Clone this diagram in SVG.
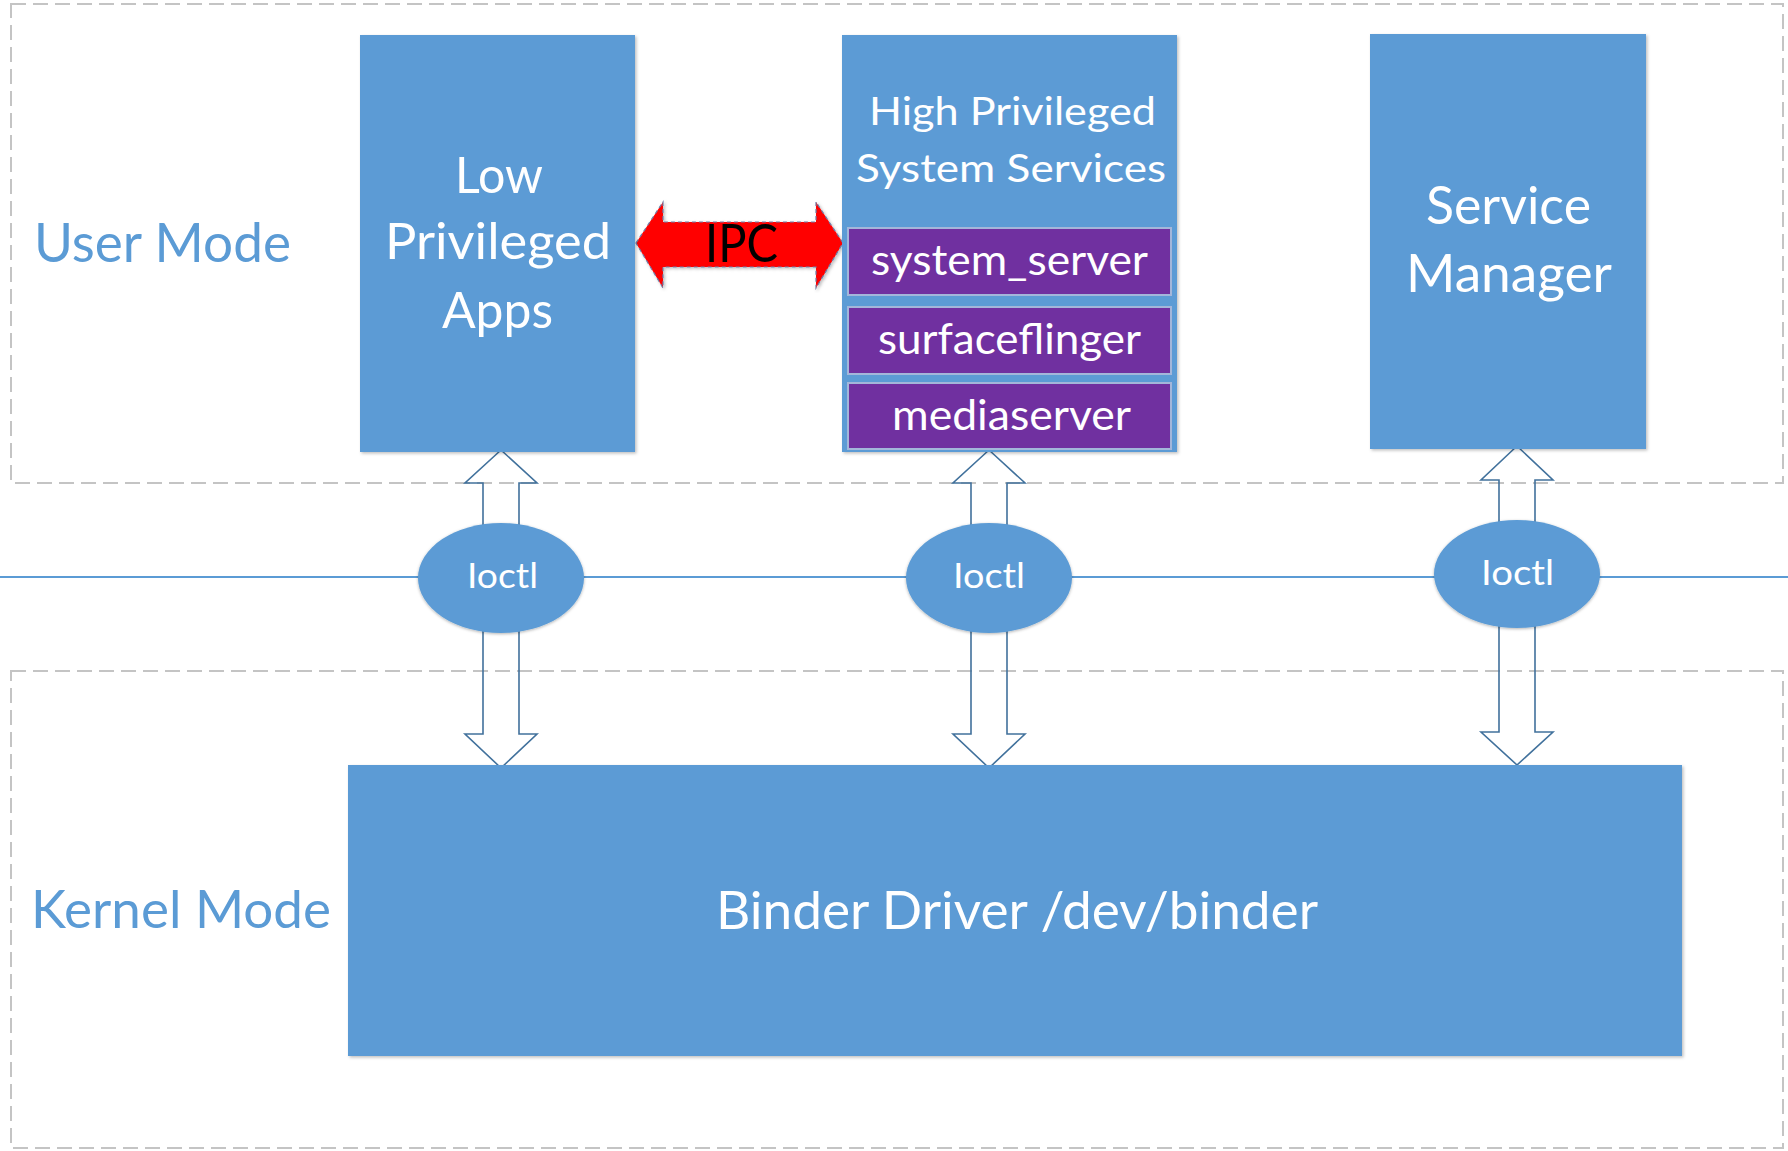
<svg xmlns="http://www.w3.org/2000/svg" width="1788" height="1151" viewBox="0 0 1788 1151">
<defs>
<style>
.zone{fill:none;stroke:#C4C4C4;stroke-width:2;stroke-dasharray:15 7}
.box{fill:#5B9BD5;filter:url(#sh)}
.proc{fill:#7030A0;stroke:#A3B6DA;stroke-width:2}
.wt{font-family:Lato,"Liberation Sans",sans-serif;fill:#FFFFFF}
.lbl{font-family:Lato,"Liberation Sans",sans-serif;fill:#5B9BD5}
.blk{font-family:Lato,"Liberation Sans",sans-serif;fill:#000000}
.darr{fill:none;stroke:#41719C;stroke-width:1.6;stroke-linejoin:miter}
.ell{fill:#5B9BD5;filter:url(#sh2)}
</style>
<filter id="sh" x="-5%" y="-5%" width="110%" height="110%">
<feDropShadow dx="1.5" dy="1.5" stdDeviation="1.5" flood-color="#000" flood-opacity="0.25"/>
</filter>
<filter id="sh2" x="-10%" y="-10%" width="120%" height="120%">
<feDropShadow dx="0" dy="1" stdDeviation="1.5" flood-color="#000" flood-opacity="0.3"/>
</filter>
</defs>
<rect width="1788" height="1151" fill="#FFFFFF"/>

<g id="zones">
<rect class="zone" x="11" y="4" width="1772" height="479"/>
<rect class="zone" x="11" y="671" width="1772" height="477"/>
<text class="lbl" x="34" y="262" font-size="54" textLength="257" lengthAdjust="spacingAndGlyphs">User Mode</text>
<text class="lbl" x="31" y="928" font-size="52" textLength="300" lengthAdjust="spacingAndGlyphs">Kernel Mode</text>
</g>

<g id="connectors">
<line x1="0" y1="577" x2="1788" y2="577" stroke="#5B9BD5" stroke-width="2"/>
<polygon class="darr" points="501,450 537,483 519,483 519,734 537,734 501,768 465,734 483,734 483,483 465,483"/>
<polygon class="darr" points="989,450 1025,483 1007,483 1007,734 1025,734 989,768 953,734 971,734 971,483 953,483"/>
<polygon class="darr" points="1517,446 1553,480 1535,480 1535,732 1553,732 1517,765 1481,732 1499,732 1499,480 1481,480"/>
<g id="ipc">
<polygon points="636,243 663,202 663,222 816,222 816,202 843,243 816,288 816,267 663,267 663,288" fill="#FF0000" stroke="#6F7FA8" stroke-width="1.2" stroke-dasharray="4 3" filter="url(#sh)"/>
<text class="blk" x="705" y="262" font-size="52" textLength="73" lengthAdjust="spacingAndGlyphs">IPC</text>
</g>
</g>

<g id="low-apps">
<rect class="box" x="360" y="35" width="275" height="417"/>
<text class="wt" x="455" y="193" font-size="51" textLength="88" lengthAdjust="spacingAndGlyphs">Low</text>
<text class="wt" x="385" y="259" font-size="51" textLength="226" lengthAdjust="spacingAndGlyphs">Privileged</text>
<text class="wt" x="442" y="328" font-size="51" textLength="111" lengthAdjust="spacingAndGlyphs">Apps</text>
</g>

<g id="high-services">
<rect class="box" x="842" y="35" width="335" height="417"/>
<text class="wt" x="869" y="125" font-size="38" textLength="287" lengthAdjust="spacingAndGlyphs">High Privileged</text>
<text class="wt" x="856" y="182" font-size="38" textLength="310" lengthAdjust="spacingAndGlyphs">System Services</text>
</g>
<g id="system-server">
<rect class="proc" x="848" y="228" width="323" height="67"/>
<text class="wt" x="871" y="275" font-size="42" textLength="277" lengthAdjust="spacingAndGlyphs">system_server</text>
</g>
<g id="surfaceflinger">
<rect class="proc" x="848" y="307" width="323" height="67"/>
<text class="wt" x="878" y="354" font-size="42" textLength="263" lengthAdjust="spacingAndGlyphs">surfaceflinger</text>
</g>
<g id="mediaserver">
<rect class="proc" x="848" y="383" width="323" height="66"/>
<text class="wt" x="892" y="430" font-size="42" textLength="239" lengthAdjust="spacingAndGlyphs">mediaserver</text>
</g>

<g id="service-manager">
<rect class="box" x="1370" y="34" width="276" height="415"/>
<text class="wt" x="1426" y="224" font-size="53" textLength="165" lengthAdjust="spacingAndGlyphs">Service</text>
<text class="wt" x="1406" y="292" font-size="53" textLength="206" lengthAdjust="spacingAndGlyphs">Manager</text>
</g>

<g id="ioctl-1">
<ellipse class="ell" cx="501" cy="578" rx="83" ry="55"/>
<text class="wt" x="467" y="588" font-size="35" textLength="71" lengthAdjust="spacingAndGlyphs">Ioctl</text>
</g>
<g id="ioctl-2">
<ellipse class="ell" cx="989" cy="578" rx="83" ry="55"/>
<text class="wt" x="953" y="588" font-size="35" textLength="72" lengthAdjust="spacingAndGlyphs">Ioctl</text>
</g>
<g id="ioctl-3">
<ellipse class="ell" cx="1517" cy="574" rx="83" ry="54"/>
<text class="wt" x="1481" y="585" font-size="35" textLength="73" lengthAdjust="spacingAndGlyphs">Ioctl</text>
</g>

<g id="binder-driver">
<rect class="box" x="348" y="765" width="1334" height="291"/>
<text class="wt" x="716" y="929" font-size="52" textLength="602" lengthAdjust="spacingAndGlyphs">Binder Driver /dev/binder</text>
</g>
</svg>
